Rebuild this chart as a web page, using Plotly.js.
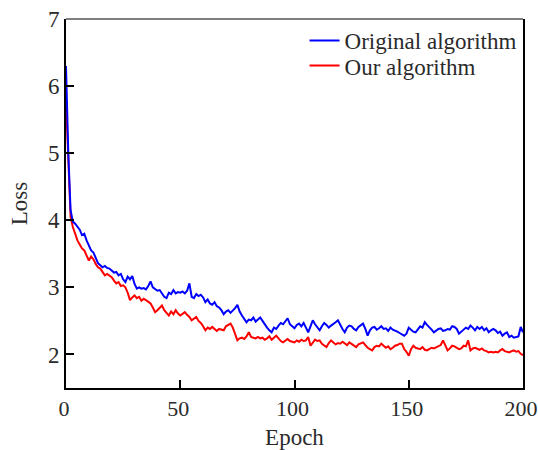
<!DOCTYPE html>
<html>
<head>
<meta charset="utf-8">
<script src="https://cdn.plot.ly/plotly-3.0.1.min.js"></script>
<style>html,body{margin:0;padding:0;background:#fff;}#chart{width:538px;height:450px;}</style>
</head>
<body>
<div id="chart"></div>
<script>
// Epochs 0..200
const epochs = Array.from({length: 201}, (_, i) => i);

const originalLoss = [
6.30,5.00,4.15,3.98,3.95,3.90,3.86,3.78,3.80,3.70,
3.62,3.55,3.52,3.45,3.36,3.33,3.30,3.32,3.29,3.28,
3.25,3.22,3.23,3.18,3.20,3.12,3.08,3.16,3.12,3.17,
3.05,2.98,3.00,2.98,2.99,2.97,3.02,3.09,3.00,2.97,
2.95,2.96,2.90,2.86,2.84,2.92,2.90,2.96,2.91,2.93,
2.92,2.94,2.91,2.95,3.06,2.86,2.84,2.90,2.87,2.89,
2.85,2.78,2.82,2.76,2.74,2.78,2.72,2.70,2.66,2.60,
2.64,2.66,2.62,2.65,2.69,2.74,2.64,2.58,2.52,2.48,
2.52,2.51,2.55,2.49,2.52,2.55,2.50,2.44,2.40,2.36,
2.33,2.40,2.38,2.43,2.47,2.45,2.50,2.54,2.45,2.42,
2.39,2.44,2.46,2.42,2.47,2.40,2.33,2.42,2.51,2.45,
2.40,2.36,2.42,2.47,2.44,2.40,2.43,2.45,2.48,2.51,
2.44,2.38,2.33,2.40,2.43,2.42,2.38,2.36,2.41,2.44,
2.46,2.38,2.28,2.36,2.40,2.41,2.37,2.39,2.42,2.38,
2.39,2.35,2.40,2.37,2.36,2.34,2.32,2.30,2.28,2.31,
2.40,2.37,2.34,2.33,2.38,2.42,2.40,2.48,2.44,2.41,
2.37,2.33,2.36,2.38,2.39,2.35,2.36,2.38,2.37,2.42,
2.41,2.38,2.31,2.34,2.37,2.40,2.38,2.43,2.40,2.36,
2.41,2.38,2.41,2.36,2.39,2.33,2.36,2.38,2.36,2.32,
2.34,2.28,2.31,2.33,2.26,2.28,2.25,2.26,2.27,2.41,
2.33
];

const ourLoss = [
5.80,4.80,4.05,3.90,3.80,3.70,3.64,3.58,3.55,3.48,
3.40,3.46,3.42,3.35,3.30,3.28,3.22,3.18,3.20,3.17,
3.15,3.10,3.06,3.08,3.02,3.03,3.00,2.92,2.81,2.85,
2.88,2.84,2.86,2.80,2.83,2.81,2.78,2.76,2.70,2.63,
2.66,2.70,2.73,2.66,2.62,2.58,2.64,2.60,2.66,2.61,
2.58,2.60,2.63,2.59,2.56,2.51,2.54,2.56,2.50,2.47,
2.42,2.36,2.40,2.38,2.41,2.38,2.35,2.38,2.37,2.36,
2.42,2.44,2.46,2.40,2.30,2.21,2.24,2.25,2.23,2.27,
2.33,2.26,2.25,2.24,2.26,2.24,2.25,2.22,2.24,2.27,
2.22,2.25,2.28,2.24,2.20,2.18,2.21,2.23,2.20,2.19,
2.18,2.21,2.19,2.22,2.20,2.21,2.26,2.13,2.18,2.22,
2.20,2.21,2.16,2.14,2.11,2.17,2.21,2.18,2.15,2.17,
2.16,2.19,2.17,2.14,2.18,2.16,2.13,2.11,2.15,2.16,
2.18,2.14,2.10,2.08,2.06,2.11,2.13,2.12,2.16,2.13,
2.10,2.12,2.08,2.10,2.13,2.14,2.16,2.16,2.08,2.04,
1.98,2.08,2.13,2.10,2.09,2.08,2.11,2.07,2.06,2.08,
2.10,2.09,2.11,2.12,2.14,2.21,2.12,2.06,2.09,2.13,
2.12,2.10,2.08,2.09,2.13,2.12,2.21,2.06,2.09,2.10,
2.08,2.07,2.09,2.06,2.05,2.03,2.04,2.03,2.04,2.03,
2.06,2.08,2.05,2.04,2.03,2.05,2.06,2.04,2.05,2.01,
1.99
];

const seriesNames = ['Original algorithm', 'Our algorithm'];
const xTicks = [0, 50, 100, 150, 200];
const yTicks = [2, 3, 4, 5, 6, 7];

const FONT = 'Liberation Serif';
const TXT = '#2a2a2a';

// red drawn first so blue sits on top; each series has its own legend box
const traces = [
  {x: epochs, y: ourLoss, name: seriesNames[1], type: 'scatter', mode: 'lines',
   line: {color: '#ff0000', width: 2}, legend: 'legend2'},
  {x: epochs, y: originalLoss, name: seriesNames[0], type: 'scatter', mode: 'lines',
   line: {color: '#0000ff', width: 2}, legend: 'legend'}
];

const legendBase = {x: 0.522, xanchor: 'left', yanchor: 'top',
  bgcolor: 'rgba(0,0,0,0)', font: {family: FONT, size: 23, color: TXT}, itemwidth: 30};

const layout = {
  width: 538, height: 450,
  margin: {l: 66, r: 15, t: 19, b: 62},
  paper_bgcolor: '#ffffff', plot_bgcolor: '#ffffff',
  font: {family: FONT, size: 23, color: TXT},
  showlegend: true,
  legend: Object.assign({}, legendBase, {y: 1.0}),
  legend2: Object.assign({}, legendBase, {y: 0.932}),
  xaxis: {
    range: [0, 200], tickvals: xTicks, ticktext: xTicks.map(String),
    ticks: 'inside', ticklen: 8, tickwidth: 2, tickcolor: '#000',
    showline: true, linecolor: '#000', linewidth: 2, mirror: false,
    showgrid: false, zeroline: false, ticklabelshift: -2,
    tickfont: {family: FONT, size: 22, color: TXT},
    title: {text: 'Epoch', font: {family: FONT, size: 23, color: TXT}, standoff: 12}
  },
  yaxis: {
    range: [1.5, 7], tickvals: yTicks, ticktext: yTicks.map(String),
    ticks: 'inside', ticklen: 8, tickwidth: 2, tickcolor: '#000',
    showline: true, linecolor: '#000', linewidth: 2, mirror: true,
    showgrid: false, zeroline: false, ticklabeloverflow: 'allow',
    tickfont: {family: FONT, size: 23, color: TXT},
    title: {text: 'Loss', font: {family: FONT, size: 23, color: TXT}, standoff: 14}
  },
  shapes: [
    {type: 'line', xref: 'paper', yref: 'paper', x0: 0, x1: 1, y0: 1, y1: 1,
     line: {color: '#555', width: 1.5}}
  ]
};

Plotly.newPlot('chart', traces, layout, {staticPlot: true, displayModeBar: false});
</script>
</body>
</html>
